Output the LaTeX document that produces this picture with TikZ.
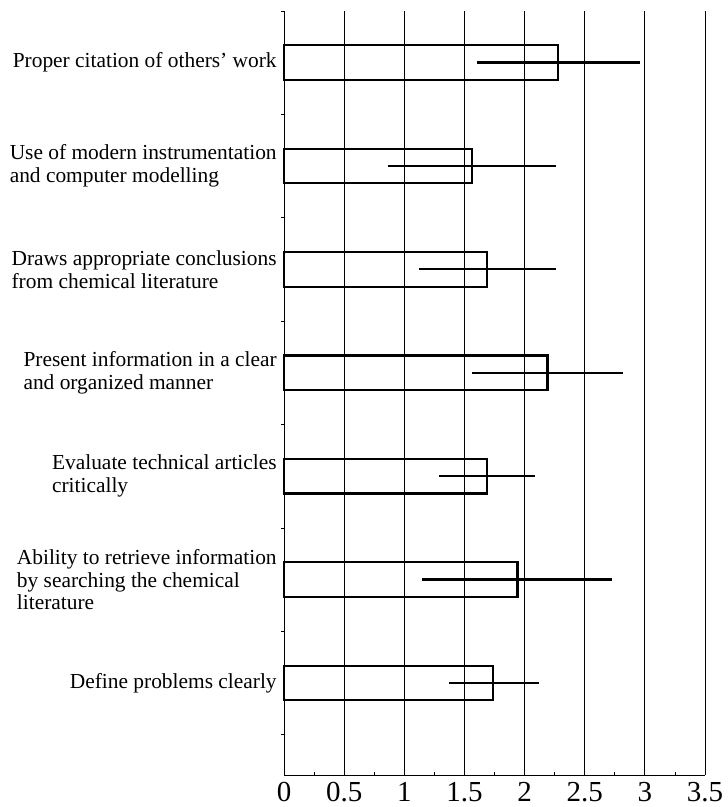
\documentclass[tikz,border=0pt]{standalone}
\usepackage{fontspec}
\setmainfont{Liberation Serif}
\tikzstyle{grid line}=[draw,line width=0.5pt]
\tikzstyle{minor tick}=[draw,line width=0.4pt]
\tikzstyle{bar}=[draw,line width=1.1pt]
\tikzstyle{error bar}=[draw,line width=1.1pt]
\tikzstyle{item}=[anchor=east,align=left,inner sep=0pt,font=\fontsize{10.7}{11.4}\selectfont]
\tikzstyle{tick label}=[anchor=base,inner sep=0pt,font=\fontsize{14.5}{14.5}\selectfont]

\begin{document}
\begin{tikzpicture}[x=60.15pt,y=0.5pt]
\useasboundingbox (-2.361,0) rectangle (3.683,807);

% First we draw the grid and the axis
\foreach \v in {0,0.5,...,3.5}
\path[grid line] (\v,31.8) -- (\v,796);
\path[grid line] (0,31.8) -- (3.5,31.8);
\foreach \v in {0.25,0.75,...,3.25}
\path[minor tick] (\v,31.8) -- (\v,35.3);
\foreach \k in {0,...,7}
\path[minor tick] (0,796-103.4*\k) -- (-0.025,796-103.4*\k);

% Tick labels under the axis
\foreach \v/\name in {0/0, 0.5/05, 1/1, 1.5/15, 2/2, 2.5/25, 3/3, 3.5/35}
\node[tick label] (tick\name) at (\v,5) {\v};

% Bars with their spread
\foreach \yc/\val/\lo/\hi in {744.4/2.28/1.60/2.96, 641/1.565/0.865/2.26,
  537.6/1.69/1.125/2.26, 434.2/2.19/1.56/2.82, 330.8/1.69/1.29/2.09,
  227.4/1.94/1.15/2.73, 124/1.74/1.37/2.12}
{
\path[bar] (0,\yc-17.25) rectangle (\val,\yc+17.25);
\path[error bar] (\lo,\yc) -- (\hi,\yc);
}

% Item labels left of the bars
\node[item] (citation) at (-0.058,744.4) {Proper citation of others’ work};
\node[item] (modelling) at (-0.058,641) {Use of modern instrumentation\\and computer modelling};
\node[item] (conclusions) at (-0.058,537.6) {Draws appropriate conclusions\\from chemical literature};
\node[item] (present) at (-0.058,434.2) {Present information in a clear\\and organized manner};
\node[item] (evaluate) at (-0.058,330.8) {Evaluate technical articles\\critically};
\node[item] (retrieve) at (-0.058,227.4) {Ability to retrieve information\\by searching the chemical\\literature};
\node[item] (define) at (-0.058,124) {Define problems clearly};
\end{tikzpicture}
\end{document}
